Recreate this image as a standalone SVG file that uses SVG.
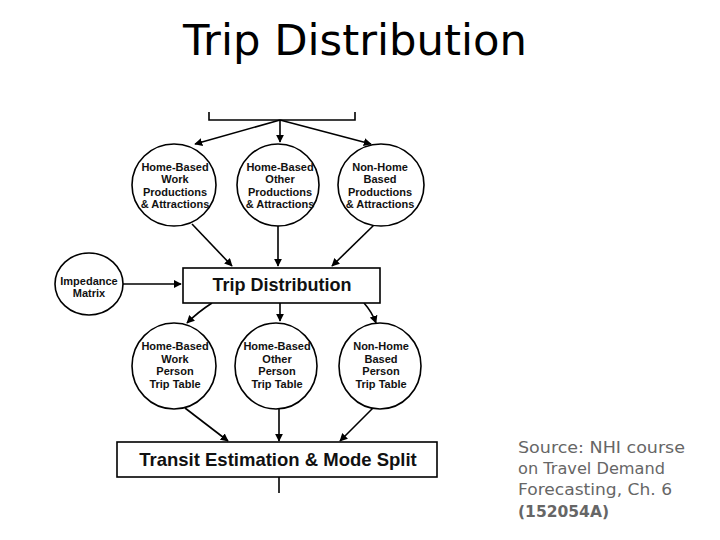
<svg xmlns="http://www.w3.org/2000/svg" width="720" height="540" viewBox="0 0 720 540">
<style>
.node{fill:#fff;stroke:#000;stroke-width:1.6}
.ct{font-family:"Liberation Sans",Arial,sans-serif;font-weight:bold;font-size:11px;fill:#111;text-anchor:middle}
.bt{font-family:"Liberation Sans",Arial,sans-serif;font-weight:bold;fill:#111;text-anchor:middle}
.conn{fill:none;stroke:#000;stroke-width:1.6}
.src{font-family:"DejaVu Sans","Liberation Sans",sans-serif;font-size:16px;fill:#666}
</style>
<defs>
<marker id="ah" viewBox="0 0 10 10" refX="9" refY="5" markerWidth="8" markerHeight="8" markerUnits="userSpaceOnUse" orient="auto">
<path d="M0,0 L10,5 L0,10 z" fill="#000"/>
</marker>
</defs>
<rect width="720" height="540" fill="#fff"/>
<text x="355" y="55" font-family="'Comic Sans MS','DejaVu Sans',sans-serif" font-size="42" text-anchor="middle" textLength="344" lengthAdjust="spacingAndGlyphs" fill="#000">Trip Distribution</text>

<g id="connectors">
<path class="conn" d="M209,112 V120 H355 V112" stroke-width="2"/>
<path class="conn" d="M280,120 L195,144" marker-end="url(#ah)"/>
<path class="conn" d="M280,120 L280,142" marker-end="url(#ah)"/>
<path class="conn" d="M280,120 L371,144" marker-end="url(#ah)"/>
<path class="conn" d="M192,224 L232,266" marker-end="url(#ah)"/>
<path class="conn" d="M278,224 L278,266" marker-end="url(#ah)"/>
<path class="conn" d="M375,224 L332,266" marker-end="url(#ah)"/>
<path class="conn" d="M123,284 L181,284" marker-end="url(#ah)"/>
<path class="conn" d="M212,303 Q198,312 187,323" marker-end="url(#ah)"/>
<path class="conn" d="M280,303 L280,321" marker-end="url(#ah)"/>
<path class="conn" d="M364,303 Q372,312 376,323" marker-end="url(#ah)"/>
<path class="conn" d="M185,408 L228,441" marker-end="url(#ah)"/>
<path class="conn" d="M279,408 L279,441" marker-end="url(#ah)"/>
<path class="conn" d="M373,408 L340,441" marker-end="url(#ah)"/>
<path class="conn" d="M279,477 L279,493" stroke-width="2"/>
</g>

<g id="hbw-pa">
<ellipse class="node" cx="174" cy="185" rx="42" ry="41"/>
<text class="ct" x="175" y="171">Home-Based</text>
<text class="ct" x="175" y="183">Work</text>
<text class="ct" x="175" y="196">Productions</text>
<text class="ct" x="175" y="208">&amp; Attractions</text>
</g>
<g id="hbo-pa">
<ellipse class="node" cx="278" cy="185" rx="41" ry="41"/>
<text class="ct" x="280" y="171">Home-Based</text>
<text class="ct" x="280" y="183">Other</text>
<text class="ct" x="280" y="196">Productions</text>
<text class="ct" x="280" y="208">&amp; Attractions</text>
</g>
<g id="nhb-pa">
<ellipse class="node" cx="381" cy="185" rx="43" ry="41"/>
<text class="ct" x="380" y="171">Non-Home</text>
<text class="ct" x="380" y="183">Based</text>
<text class="ct" x="380" y="196">Productions</text>
<text class="ct" x="380" y="208">&amp; Attractions</text>
</g>

<g id="impedance">
<ellipse class="node" cx="89" cy="284" rx="34" ry="31"/>
<text class="ct" x="89" y="285">Impedance</text>
<text class="ct" x="89" y="297">Matrix</text>
</g>

<g id="trip-distribution">
<rect class="node" x="183" y="268" width="197" height="35"/>
<text class="bt" x="282" y="291" font-size="18">Trip Distribution</text>
</g>

<g id="hbw-tt">
<ellipse class="node" cx="174" cy="366" rx="42" ry="43"/>
<text class="ct" x="175" y="350">Home-Based</text>
<text class="ct" x="175" y="363">Work</text>
<text class="ct" x="175" y="375">Person</text>
<text class="ct" x="175" y="388">Trip Table</text>
</g>
<g id="hbo-tt">
<ellipse class="node" cx="276" cy="366" rx="41" ry="43"/>
<text class="ct" x="277" y="350">Home-Based</text>
<text class="ct" x="277" y="363">Other</text>
<text class="ct" x="277" y="375">Person</text>
<text class="ct" x="277" y="388">Trip Table</text>
</g>
<g id="nhb-tt">
<ellipse class="node" cx="380" cy="366" rx="41" ry="43"/>
<text class="ct" x="381" y="350">Non-Home</text>
<text class="ct" x="381" y="363">Based</text>
<text class="ct" x="381" y="375">Person</text>
<text class="ct" x="381" y="388">Trip Table</text>
</g>

<g id="transit">
<rect class="node" x="117" y="442" width="320" height="35"/>
<text class="bt" x="278" y="466" font-size="18.5">Transit Estimation &amp; Mode Split</text>
</g>

<g id="source">
<text class="src" x="518" y="453" textLength="167" lengthAdjust="spacingAndGlyphs">Source: NHI course</text>
<text class="src" x="518" y="474" textLength="147" lengthAdjust="spacingAndGlyphs">on Travel Demand</text>
<text class="src" x="518" y="495" textLength="154" lengthAdjust="spacingAndGlyphs">Forecasting, Ch. 6</text>
<text class="src" x="518" y="517" font-weight="bold" textLength="91" lengthAdjust="spacingAndGlyphs">(152054A)</text>
</g>
</svg>
